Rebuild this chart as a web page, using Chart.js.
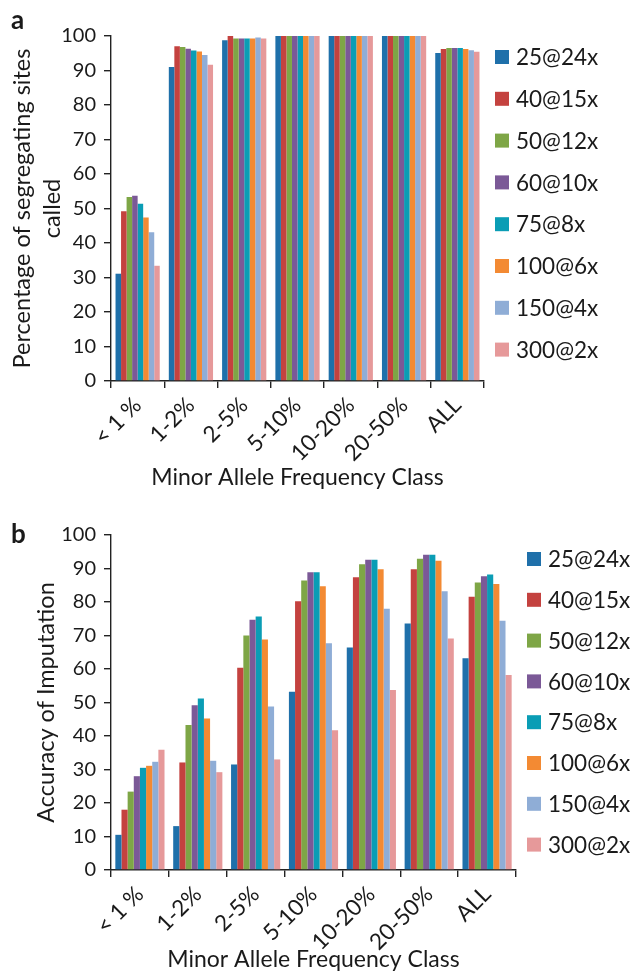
<!DOCTYPE html>
<html>
<head>
<meta charset="utf-8">
<script src="https://cdn.jsdelivr.net/npm/chart.js@4/dist/chart.umd.min.js"></script>
<style>
  html, body { margin: 0; padding: 0; background: #ffffff; }
  #wrapA { position: absolute; left: 0; top: 0; width: 633px; height: 492px; }
  #wrapB { position: absolute; left: 0; top: 492px; width: 633px; height: 482px; }
</style>
</head>
<body>
<div id="wrapA"><canvas id="chartA" width="633" height="492"></canvas></div>
<div id="wrapB"><canvas id="chartB" width="633" height="482"></canvas></div>
<script>
// ---- data ----
const categories = ['< 1 %', '1-2%', '2-5%', '5-10%', '10-20%', '20-50%', 'ALL'];
const seriesLabels = ['25@24x', '40@15x', '50@12x', '60@10x', '75@8x', '100@6x', '150@4x', '300@2x'];
const yTicks = [0, 10, 20, 30, 40, 50, 60, 70, 80, 90, 100];

// Panel a: percentage of segregating sites called
const calledA_25at24x  = [31.1, 91.0, 98.8, 100, 100, 100, 95.1];
const calledA_40at15x  = [49.2, 97.0, 100, 100, 100, 100, 96.2];
const calledA_50at12x  = [53.3, 96.8, 99.3, 100, 100, 100, 96.5];
const calledA_60at10x  = [53.7, 96.3, 99.3, 100, 100, 100, 96.5];
const calledA_75at8x   = [51.4, 95.8, 99.3, 100, 100, 100, 96.5];
const calledA_100at6x  = [47.4, 95.5, 99.3, 100, 100, 100, 96.2];
const calledA_150at4x  = [43.1, 94.5, 99.6, 100, 100, 100, 95.9];
const calledA_300at2x  = [33.4, 91.7, 99.3, 100, 100, 100, 95.4];

// Panel b: accuracy of imputation
const accB_25at24x  = [10.5, 13.1, 31.5, 53.2, 66.4, 73.6, 63.2];
const accB_40at15x  = [18.0, 32.1, 60.4, 80.2, 87.4, 89.8, 81.6];
const accB_50at12x  = [23.4, 43.3, 70.0, 86.4, 91.3, 92.9, 85.8];
const accB_60at10x  = [28.0, 49.2, 74.7, 88.9, 92.6, 94.1, 87.7];
const accB_75at8x   = [30.5, 51.2, 75.7, 88.9, 92.6, 94.1, 88.2];
const accB_100at6x  = [31.1, 45.2, 68.8, 84.7, 89.8, 92.3, 85.4];
const accB_150at4x  = [32.3, 32.6, 48.8, 67.7, 78.0, 83.2, 74.4];
const accB_300at2x  = [35.9, 29.2, 33.0, 41.7, 53.7, 69.1, 58.2];

const seriesColors = ['#1f70aa', '#c4423f', '#7ea646', '#7b5997', '#0a9db5', '#f38a33', '#8fadd6', '#e6999a'];

const panelAValues = [calledA_25at24x, calledA_40at15x, calledA_50at12x, calledA_60at10x,
                      calledA_75at8x, calledA_100at6x, calledA_150at4x, calledA_300at2x];
const panelBValues = [accB_25at24x, accB_40at15x, accB_50at12x, accB_60at10x,
                      accB_75at8x, accB_100at6x, accB_150at4x, accB_300at2x];

// ---- styling ----
const FONT = 'Lato, "Open Sans", "DejaVu Sans", sans-serif';
const TXT = '#1a1a1a';
const AXIS = '#222222';

function makeDatasets(values, catPct) {
  return values.map((vals, i) => ({
    label: seriesLabels[i],
    data: vals,
    backgroundColor: seriesColors[i],
    borderWidth: 0,
    barPercentage: 1.0,
    categoryPercentage: catPct
  }));
}

function legendPlugin(boxX, firstY, stepY, textX) {
  return {
    id: 'sideLegend',
    afterDraw(chart) {
      const ctx = chart.ctx;
      ctx.save();
      ctx.font = '22.5px ' + FONT;
      ctx.textBaseline = 'middle';
      ctx.textAlign = 'left';
      chart.data.datasets.forEach((ds, i) => {
        const cy = firstY + i * stepY;
        ctx.fillStyle = ds.backgroundColor;
        ctx.fillRect(boxX, cy - 7, 14, 14);
        ctx.fillStyle = TXT;
        ctx.fillText(ds.label, textX, cy + 1);
      });
      ctx.restore();
    }
  };
}

function panelLetterPlugin(letter, x, y) {
  return {
    id: 'panelLetter',
    afterDraw(chart) {
      const ctx = chart.ctx;
      ctx.save();
      ctx.font = 'bold 26px ' + FONT;
      ctx.fillStyle = TXT;
      ctx.textBaseline = 'middle';
      ctx.textAlign = 'left';
      ctx.fillText(letter, x, y);
      ctx.restore();
    }
  };
}

function makeOptions(cfg) {
  return {
    responsive: false,
    animation: false,
    devicePixelRatio: 1,
    layout: { padding: { left: 0, right: cfg.padRight, top: cfg.padTop, bottom: 0 } },
    plugins: { legend: { display: false }, tooltip: { enabled: false }, title: { display: false } },
    scales: {
      x: {
        offset: true,
        afterFit(scale) { scale.height = cfg.xHeight; },
        border: { display: true, color: AXIS, width: 1.4 },
        grid: { display: true, offset: true, drawOnChartArea: false, drawTicks: true, tickLength: 7, color: AXIS, lineWidth: 1.4 },
        ticks: { color: TXT, font: { family: FONT, size: 22.5 }, minRotation: 45, maxRotation: 45, padding: 4, autoSkip: false },
        title: { display: true, text: 'Minor Allele Frequency Class', color: TXT,
                 font: { family: FONT, size: 23, lineHeight: 1.2 }, padding: { top: 0, bottom: 1 } }
      },
      y: {
        min: 0, max: 100,
        afterFit(scale) { scale.width = 111; },
        afterBuildTicks(scale) { scale.ticks = yTicks.map(v => ({ value: v })); },
        border: { display: true, color: AXIS, width: 1.4 },
        grid: { display: true, drawOnChartArea: false, drawTicks: true, tickLength: 7, color: AXIS, lineWidth: 1.4 },
        ticks: { color: TXT, font: { family: FONT, size: 20 }, padding: 8 },
        title: { display: true, text: cfg.yTitle, color: TXT,
                 font: { family: FONT, size: 23.5, lineHeight: 1.25 }, padding: { top: cfg.yTitlePad, bottom: 0 } }
      }
    }
  };
}

new Chart(document.getElementById('chartA'), {
  type: 'bar',
  data: { labels: categories, datasets: makeDatasets(panelAValues, 0.83) },
  options: makeOptions({ padRight: 149, padTop: 36, xHeight: 111,
                         yTitle: ['Percentage of segregating sites', 'called'], yTitlePad: 8 }),
  plugins: [legendPlugin(495, 57, 41.8, 516), panelLetterPlugin('a', 11, 21)]
});

new Chart(document.getElementById('chartB'), {
  type: 'bar',
  data: { labels: categories, datasets: makeDatasets(panelBValues, 0.85) },
  options: makeOptions({ padRight: 117, padTop: 43, xHeight: 104,
                         yTitle: 'Accuracy of Imputation', yTitlePad: 32 }),
  plugins: [legendPlugin(527, 67, 40.8, 548), panelLetterPlugin('b', 11, 43)]
});
</script>
</body>
</html>
